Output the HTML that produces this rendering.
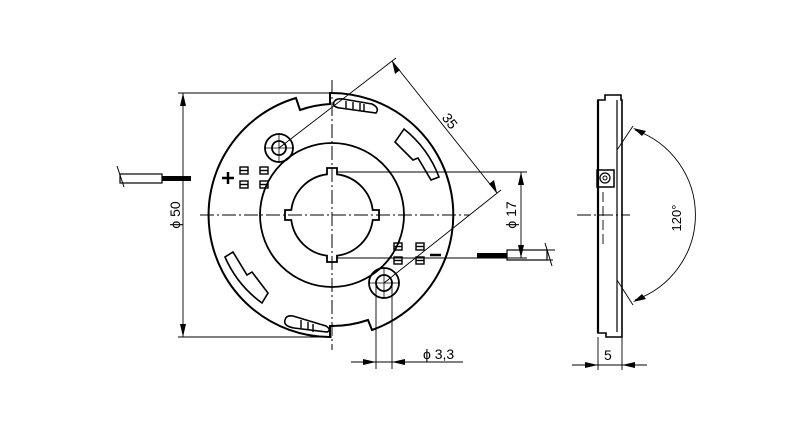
<!DOCTYPE html>
<html><head><style>html,body{margin:0;padding:0;background:#fff}svg{display:block}</style></head><body>
<svg width="800" height="429" viewBox="0 0 800 429" xmlns="http://www.w3.org/2000/svg" font-family="Liberation Sans, sans-serif">
<g fill="none" stroke="#000">
<path d="M330,93 A122,122 0 0 1 372,330 L368,320 A111,111 0 0 1 330,326 L330,337 A122,122 0 0 1 296,98 L300,110 A111,111 0 0 1 330,104 Z" stroke-width="2"/>
<circle cx="332" cy="215" r="72" stroke-width="1.8"/>
<path d="M327,174.3 L327,168 L337,168 L337,174.3 A41,41 0 0 1 372.7,210 L379,210 L379,220 L372.7,220 A41,41 0 0 1 337,255.7 L337,262 L327,262 L327,255.7 A41,41 0 0 1 291.3,220 L285,220 L285,210 L291.3,210 A41,41 0 0 1 327,174.3 Z" stroke-width="1.8"/>
<circle cx="279" cy="148" r="14" stroke-width="1.8"/>
<circle cx="279" cy="148" r="7" stroke-width="1.8"/>
<circle cx="384" cy="283" r="15" stroke-width="1.8"/>
<circle cx="384" cy="283" r="8" stroke-width="1.8"/>
<path d="M334,102 Q336,98 343,99 L372,104 Q380,108 376,113 L340,108 Q332,107 334,102 Z" stroke-width="1.6"/>
<path d="M346,101 L346,108 M353,102 L353,109 M360,103 L360,110 M364,104 L364,111" stroke-width="1.4"/>
<path d="M285,320 Q286,315 293,316 L326,326 Q332,330 327,332 L294,328 Q283,326 285,320 Z" stroke-width="1.6"/>
<path d="M301,320 L301,328 M308,322 L308,330 M313,324 L313,332" stroke-width="1.4"/>
<path d="M404,129 A112,112 0 0 1 439,177 L431,180 L418,158 L413,160 L395,142 Z" stroke-width="1.6"/>
<path d="M225,257 A112,112 0 0 0 262,303 L268,293 L252,272 L247,275 L233,252 Z" stroke-width="1.6"/>
<g stroke-width="1.4">
<rect x="240" y="167" width="8" height="7"/><line x1="240" y1="170.5" x2="248" y2="170.5"/>
<rect x="260" y="167" width="8" height="7"/><line x1="260" y1="170.5" x2="268" y2="170.5"/>
<rect x="240" y="181" width="8" height="7"/><line x1="240" y1="184.5" x2="248" y2="184.5"/>
<rect x="260" y="181" width="8" height="7"/><line x1="260" y1="184.5" x2="268" y2="184.5"/>
<rect x="394" y="243" width="8" height="7"/><line x1="394" y1="246.5" x2="402" y2="246.5"/>
<rect x="416" y="243" width="8" height="7"/><line x1="416" y1="246.5" x2="424" y2="246.5"/>
<rect x="394" y="257" width="8" height="7"/><line x1="394" y1="260.5" x2="402" y2="260.5"/>
<rect x="416" y="257" width="8" height="7"/><line x1="416" y1="260.5" x2="424" y2="260.5"/>
</g>
<path d="M222,178 L234,178 M228,172 L228,184" stroke-width="2.5"/>
<path d="M430,255 L441,255" stroke-width="2.5"/>
<g stroke-width="1" stroke-dasharray="14,3,2,3">
<line x1="200" y1="215" x2="470" y2="215"/>
<line x1="332" y1="80" x2="332" y2="350"/>
</g>
<path d="M264,148 L294,148 M279,133 L279,163 M369,283 L400,283 M384,268 L384,298" stroke-width="0.8"/>
<g stroke-width="0.9">
<line x1="178" y1="93" x2="332" y2="93"/>
<line x1="178" y1="337" x2="332" y2="337"/>
<line x1="183" y1="93" x2="183" y2="337"/>
<line x1="279" y1="148" x2="396" y2="58"/>
<line x1="384" y1="283" x2="501" y2="190"/>
<line x1="392" y1="61" x2="497" y2="193"/>
<line x1="336" y1="172" x2="527" y2="172"/>
<line x1="336" y1="258" x2="527" y2="258"/>
<line x1="521" y1="172" x2="521" y2="258"/>
<line x1="376" y1="283" x2="376" y2="369"/>
<line x1="392" y1="283" x2="392" y2="369"/>
<line x1="351" y1="362" x2="463" y2="362"/>
</g>
</g>
<g fill="#000">
<path d="M183,93 l-3,13 l6,0 z"/><path d="M183,337 l-3,-13 l6,0 z"/>
<path d="M392,61 l3,13 l5,-4 z"/><path d="M497,193 l-3,-13 l-5,4 z"/>
<path d="M521,172 l-3,13 l6,0 z"/><path d="M521,258 l-3,-13 l6,0 z"/>
<path d="M376,362 l-13,-3 l0,6 z"/><path d="M392,362 l13,-3 l0,6 z"/>
</g>
<g stroke="#000" fill="none">
<rect x="120" y="174" width="42" height="9" stroke-width="1.2"/>
<line x1="162" y1="178.5" x2="191" y2="178.5" stroke-width="5"/>
<line x1="117" y1="166" x2="124" y2="187" stroke-width="1"/>
<line x1="477" y1="255.5" x2="507" y2="255.5" stroke-width="5"/>
<rect x="507" y="250" width="40" height="10" stroke-width="1.2"/>
<line x1="547" y1="250" x2="555" y2="250" stroke-width="1"/><line x1="547" y1="260" x2="553" y2="260" stroke-width="1"/>
<line x1="545" y1="243" x2="552" y2="266" stroke-width="1"/>
</g>
<text transform="translate(180,215) rotate(-90)" font-size="14" text-anchor="middle">ϕ 50</text>
<text transform="translate(446,124) rotate(52)" font-size="14" text-anchor="middle">35</text>
<text transform="translate(516,215) rotate(-90)" font-size="14" text-anchor="middle">ϕ 17</text>
<text x="423" y="359" font-size="14">ϕ 3,3</text>
<g fill="none" stroke="#000">
<path d="M598,100 L605,100 L605,95 L621,95 L621,100 L622,100 L622,337 L606,337 L606,333 L598,333 Z" stroke-width="1.6"/>
<line x1="598" y1="100" x2="598" y2="333" stroke-width="2.2"/>
<line x1="617" y1="100" x2="617" y2="332" stroke-width="1.2"/>
<rect x="597" y="170" width="17" height="17" stroke-width="1.5"/>
<circle cx="605" cy="178" r="5" stroke-width="1.2"/><circle cx="605" cy="178" r="2" stroke-width="1"/>
<line x1="603" y1="192" x2="603" y2="245" stroke-width="0.9" stroke-dasharray="10,4"/>
<line x1="577" y1="215" x2="630" y2="215" stroke-width="0.9" stroke-dasharray="14,3,2,3"/>
<line x1="617" y1="150" x2="633" y2="126" stroke-width="0.9"/>
<line x1="617" y1="280" x2="633" y2="305" stroke-width="0.9"/>
<path d="M635,130 A90,90 0 0 1 635,300" stroke-width="0.9"/>
<line x1="598" y1="337" x2="598" y2="370" stroke-width="0.9"/>
<line x1="622" y1="337" x2="622" y2="370" stroke-width="0.9"/>
<line x1="572" y1="365" x2="647" y2="365" stroke-width="0.9"/>
</g>
<g fill="#000">
<path d="M633,128 l13,3 l-4,5 z"/><path d="M633,302 l13,-3 l-4,-5 z"/>
<path d="M598,365 l-13,-3 l0,6 z"/><path d="M622,365 l13,-3 l0,6 z"/>
</g>
<text x="604" y="360" font-size="14">5</text>
<text transform="translate(681,218) rotate(-90)" font-size="13" text-anchor="middle">120°</text>
</svg>
</body></html>
